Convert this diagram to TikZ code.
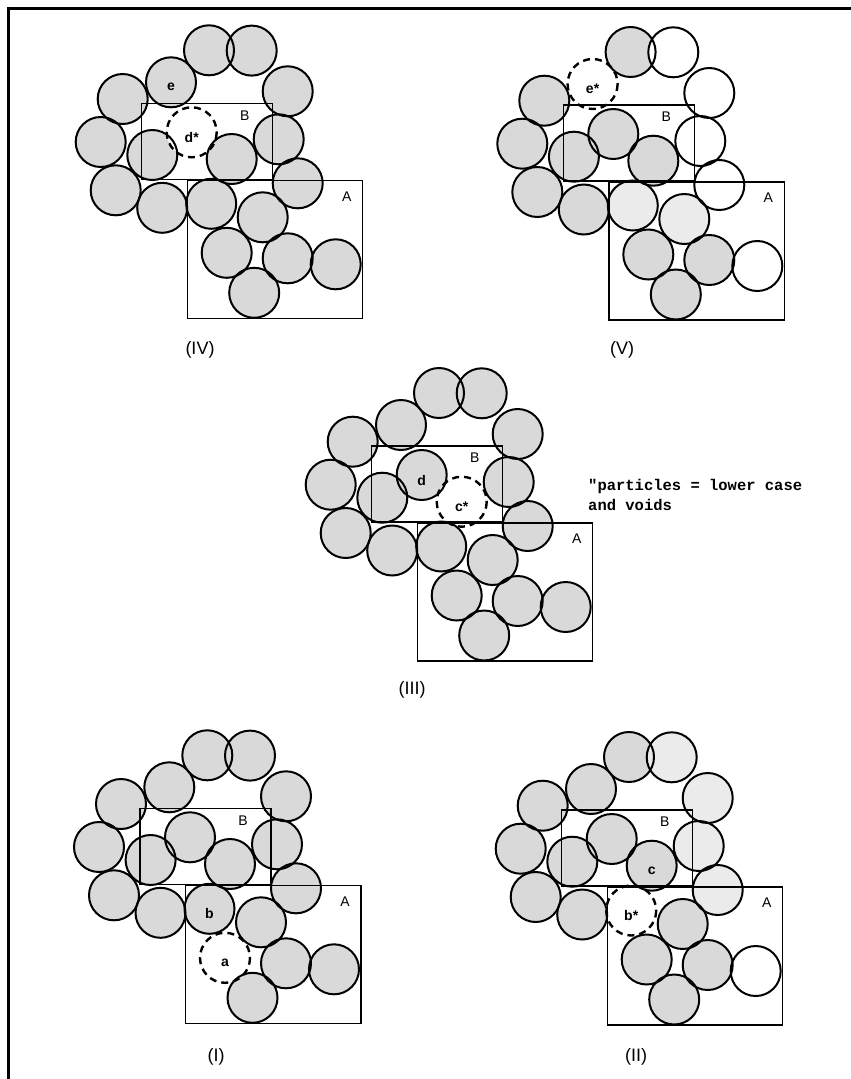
\documentclass[tikz,border=0pt]{standalone}
\usepackage{fontspec}
\setmainfont{Liberation Sans}
\newfontfamily\notefont{Liberation Mono}
\begin{document}
\begin{tikzpicture}[x=1pt,y=-1pt,
  grain/.style={circle, inner sep=0pt, minimum size=50pt, fill=black!15},
  pale/.style={fill=black!8},
  bare/.style={fill=white},
  rim/.style={draw=black, line width=2pt},
  voidrim/.style={draw=black, line width=2.4pt, dash pattern=on 7pt off 5pt},
  boxline/.style={draw=black, line width=1.4pt},
  boxtag/.style={font=\fontsize{14}{16}\selectfont, inner sep=0pt},
  tag/.style={font=\bfseries\fontsize{14}{16}\selectfont, inner sep=0pt, yshift=-5pt},
  caption/.style={font=\fontsize{18}{20}\selectfont, inner sep=0pt},
  note/.style={font=\notefont\bfseries\fontsize{15.5}{20}\selectfont, inner sep=0pt, anchor=base west},
  edge/.style={line width=3pt}]
\useasboundingbox (0,0) rectangle (851,1079);

% particle centres, measured from the top-left corner of box B
\def\layout{1/67.3/-53, 2/110/-52.7, 3/29.3/-21, 4/146/-12, 5/-19/-4.3,
  6/50/29, 7/137/36, 8/-41/38.7, 9/10.6/51.7, 10/90/55.7, 11/156/80,
  12/-26/87, 13/20.5/104.5, 14/69.5/100.5, 15/121/114, 16/85/149.5,
  17/146/155, 18/194/161, 19/112.5/189.5}
\def\rad{25}

% #1 panel name, #2 corner of box B, #3 index of the void, #4 extra fills
\newcommand\packing[4]{%
  \begin{scope}[shift={#2},#4]
    \foreach \i/\x/\y in \layout {\node[grain, f\i/.try] (#1-\i) at (\x,\y) {};}
    \fill[white] (#1-#3) circle[radius=\rad];
    \foreach \i/\x/\y in \layout {%
      \ifnum\i=#3\relax \draw[voidrim] (#1-\i) circle[radius=\rad];
      \else \draw[rim] (#1-\i) circle[radius=\rad];\fi}
    \draw[boxline] (0,0) rectangle (131,76);
    \draw[boxline] (45.5,77) rectangle (221,215);
    \node[boxtag] (#1-B) at (103,12) {B};
    \node[boxtag] (#1-A) at (205,93) {A};
  \end{scope}}

% outer frame
\draw[edge] (8.5,1079) -- (8.5,8) -- (851,8);

% (IV)
\packing{IV}{(141.7,103.3)}{6}{}
\node[tag] (IV-e) at (IV-3) {e};
\node[tag] (IV-d) at (IV-6) {d*};
\node[caption] (cap-IV) at (200,350) {(IV)};

% (V)
\packing{V}{(563.3,105)}{3}{f2/.style=bare, f4/.style=bare, f7/.style=bare,
  f11/.style=bare, f18/.style=bare, f14/.style=pale, f15/.style=pale}
\node[tag] (V-e) at (V-3) {e*};
\node[caption] (cap-V) at (622,350) {(V)};

% (III)
\packing{III}{(371.7,446)}{10}{}
\node[tag] (III-d) at (III-6) {d};
\node[tag] (III-c) at (III-10) {c*};
\node[caption] (cap-III) at (412,690) {(III)};
\node[note] (note1) at (588,490) {"particles = lower case};
\node[note] (note2) at (588,510) {and voids};

% (I)
\packing{I}{(140,808.3)}{16}{}
\node[tag] (I-b) at (I-14) {b};
\node[tag] (I-a) at (I-16) {a};
\node[caption] (cap-I) at (216,1057) {(I)};

% (II)
\packing{II}{(561.7,810)}{14}{f2/.style=pale, f4/.style=pale, f7/.style=pale,
  f11/.style=pale, f18/.style=bare}
\node[tag] (II-c) at (II-10) {c};
\node[tag] (II-b) at (II-14) {b*};
\node[caption] (cap-II) at (636,1057) {(II)};
\end{tikzpicture}
\end{document}
